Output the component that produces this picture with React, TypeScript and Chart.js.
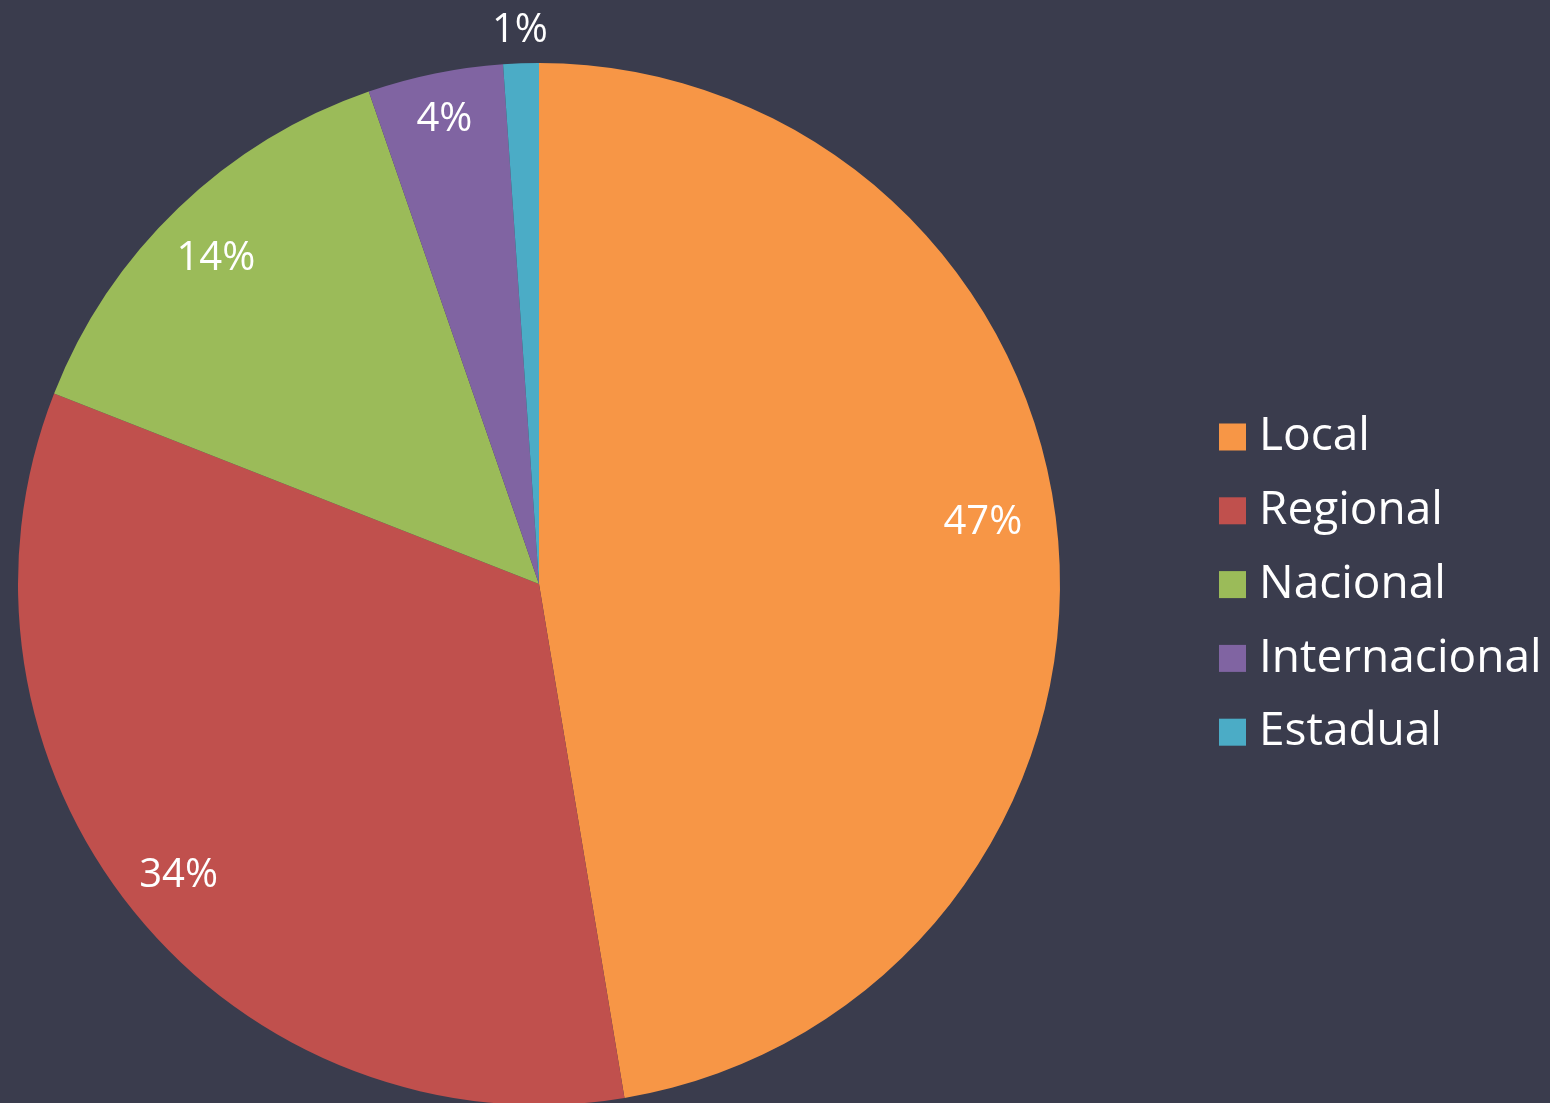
import React, { useEffect, useRef } from "react";
import { Chart, registerables } from "chart.js";

Chart.register(...registerables);

const categories = ["Local", "Regional", "Nacional", "Internacional", "Estadual"];
const values = [47.4, 33.6, 13.75, 4.2, 1.1];
const percentLabels = ["47%", "34%", "14%", "4%", "1%"];
const colors = ["#F79646", "#C0504D", "#9BBB59", "#8064A2", "#4BACC6"];
const labelRadiusFactors = [0.86, 0.89, 0.88, 0.91, 1.063];
const labelAngleOffsetsDeg = [-3.1, 0, -1, 0, 0];

const BG = "#3A3C4D";
const FONT = "'Open Sans', 'DejaVu Sans', sans-serif";

const overlayPlugin = {
  id: "overlay",
  afterDatasetsDraw(chart: any) {
    const ctx = chart.ctx as CanvasRenderingContext2D;
    const meta = chart.getDatasetMeta(0);
    ctx.save();
    ctx.fillStyle = "#FFFFFF";
    ctx.font = `40px ${FONT}`;
    ctx.textAlign = "center";
    ctx.textBaseline = "middle";
    meta.data.forEach((arc: any, i: number) => {
      const p = arc.getProps(["x", "y", "startAngle", "endAngle", "outerRadius"], true);
      const mid = (p.startAngle + p.endAngle) / 2 + (labelAngleOffsetsDeg[i] * Math.PI) / 180;
      const r = p.outerRadius * labelRadiusFactors[i];
      ctx.fillText(percentLabels[i], p.x + Math.cos(mid) * r, p.y + Math.sin(mid) * r);
    });
    // legend
    const lx = 1219;
    const ly0 = 437;
    const step = 73.8;
    const box = 27;
    ctx.textAlign = "left";
    ctx.font = `46px ${FONT}`;
    categories.forEach((c, i) => {
      const cy = ly0 + i * step;
      ctx.fillStyle = colors[i];
      ctx.fillRect(lx, cy - box / 2, box, box);
      ctx.fillStyle = "#FFFFFF";
      ctx.fillText(c, lx + 40, cy);
    });
    ctx.restore();
  },
};

export default function App() {
  const ref = useRef<HTMLCanvasElement | null>(null);
  useEffect(() => {
    document.body.style.margin = "0";
    document.body.style.overflow = "hidden";
    const chart = new Chart(ref.current as HTMLCanvasElement, {
      type: "pie",
      data: {
        labels: categories,
        datasets: [
          {
            data: values,
            backgroundColor: colors,
            borderWidth: 0,
          },
        ],
      },
      options: {
        animation: false,
        responsive: false,
        maintainAspectRatio: false,
        layout: { padding: { top: 63, right: 472, left: 0, bottom: 0 } },
        plugins: {
          legend: { display: false },
          tooltip: { enabled: false },
        },
      },
      plugins: [overlayPlugin],
    });
    return () => chart.destroy();
  }, []);
  return (
    <div
      style={{
        position: "fixed",
        left: 0,
        top: 0,
        width: 1550,
        height: 1103,
        overflow: "hidden",
        background: BG,
      }}
    >
      <canvas ref={ref} width={1550} height={1105} style={{ display: "block" }} />
    </div>
  );
}
